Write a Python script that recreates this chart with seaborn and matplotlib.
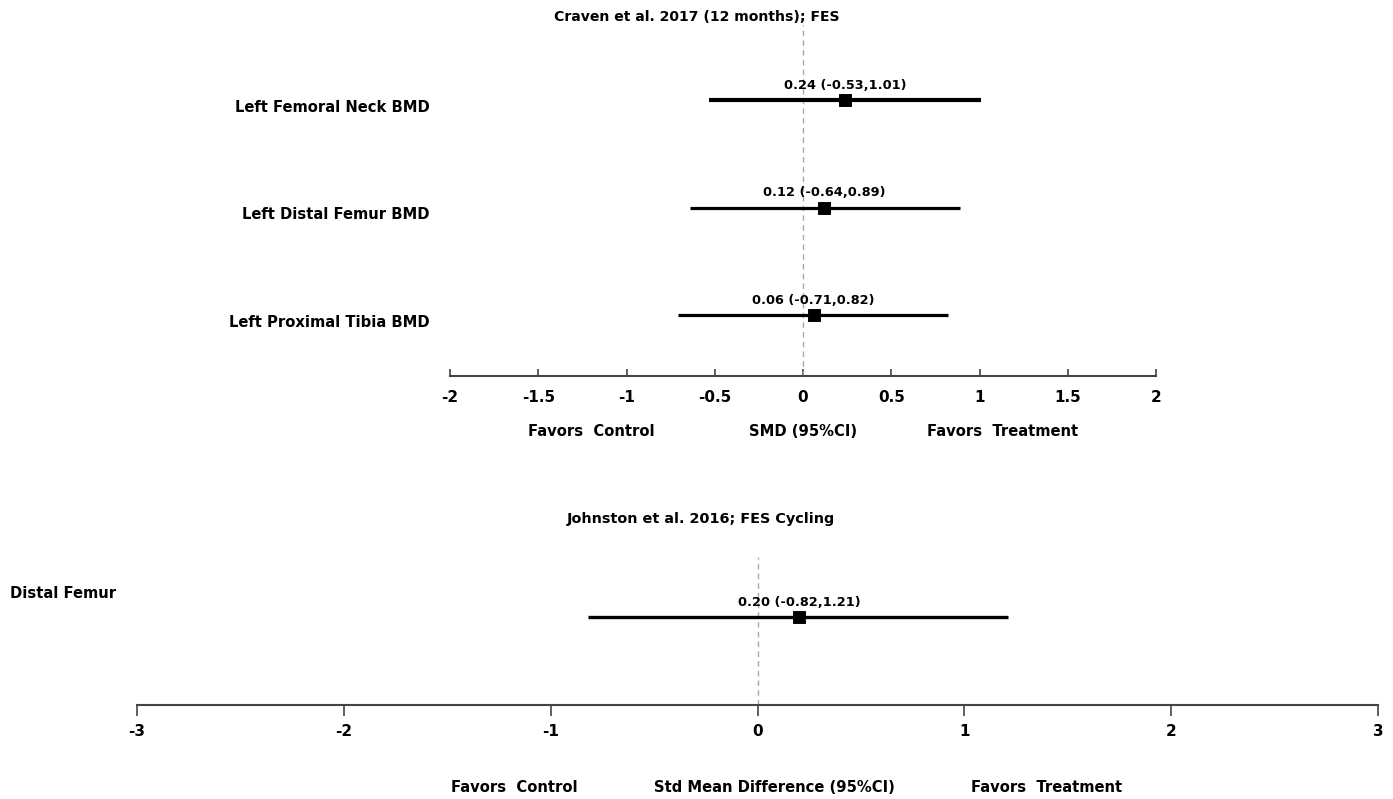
import matplotlib
matplotlib.use("Agg")
import matplotlib.pyplot as plt
import matplotlib.transforms as mtransforms
import seaborn as sns
import pandas as pd

# Craven et al. 2017 (12 months); FES
craven_outcomes = ["Left Femoral Neck BMD", "Left Distal Femur BMD", "Left Proximal Tibia BMD"]
craven_smd = [0.24, 0.12, 0.06]
craven_lo = [-0.53, -0.64, -0.71]
craven_hi = [1.01, 0.89, 0.82]

# Johnston et al. 2016; FES Cycling
johnston_outcomes = ["Distal Femur"]
johnston_smd = [0.20]
johnston_lo = [-0.82]
johnston_hi = [1.21]

top_ticks = [-2, -1.5, -1, -0.5, 0, 0.5, 1, 1.5, 2]
bottom_ticks = [-3, -2, -1, 0, 1, 2, 3]

sns.set_theme(style="white")
plt.rcParams["font.family"] = ["DejaVu Sans"]
plt.rcParams["font.weight"] = "bold"
plt.rcParams["text.color"] = "black"
plt.rcParams["xtick.color"] = "black"

W, H = 1393, 799
fig = plt.figure(figsize=(W / 100, H / 100), dpi=100)


def px_axes(x0, x1, ytop, ybot):
    return fig.add_axes([x0 / W, 1 - ybot / H, (x1 - x0) / W, (ybot - ytop) / H])


def forest(ax, df, lws):
    ax.axvline(0, color="#aaaaaa", lw=1, ls=(0, (4, 3)), zorder=1)
    for i, r in df.iterrows():
        ax.hlines(r["row"], r["lo"], r["hi"], color="black", lw=lws[i], zorder=2)
        ax.annotate(f"{r['smd']:.2f} ({r['lo']:.2f},{r['hi']:.2f})",
                    (r["smd"], r["row"]), xytext=(0, 15), textcoords="offset pixels",
                    ha="center", va="center", fontsize=9.3, fontweight="bold")
    sns.scatterplot(data=df, x="smd", y="row", marker="s", s=70, color="black",
                    edgecolor="black", ax=ax, zorder=3, legend=False)
    ax.set_xlabel("")
    ax.set_ylabel("")
    ax.set_yticks([])
    for s in ["top", "left", "right"]:
        ax.spines[s].set_visible(False)
    ax.spines["bottom"].set_color("#444444")
    ax.spines["bottom"].set_linewidth(1.5)


# ---- top panel ----
top = pd.DataFrame({"outcome": craven_outcomes, "smd": craven_smd,
                    "lo": craven_lo, "hi": craven_hi, "row": range(len(craven_smd))})
ax1 = px_axes(450, 1156, 25, 376)
forest(ax1, top, [3.0, 2.3, 2.3])
ax1.set_xlim(-2, 2)
ax1.set_ylim(2.567, -0.70)
ax1.set_xticks(top_ticks)
ax1.set_xticklabels([f"{t:g}" for t in top_ticks], fontsize=11, fontweight="bold")
ax1.tick_params(axis="x", direction="in", length=5, width=1.2, color="#444444",
                pad=10, bottom=True)
trans1 = mtransforms.blended_transform_factory(ax1.transAxes, ax1.transData)
for i, lab in enumerate(craven_outcomes):
    ax1.annotate(lab, (0, i), xycoords=trans1, xytext=(-20, -7), textcoords="offset pixels",
                 ha="right", va="center", fontsize=10.6, fontweight="bold")
fig.text(697 / W, 1 - 17 / H, "Craven et al. 2017 (12 months); FES",
         ha="center", va="center", fontsize=10.1, fontweight="bold")
for x, t in [(591, "Favors  Control"), (803, "SMD (95%CI)"), (1003, "Favors  Treatment")]:
    fig.text(x / W, 1 - 431 / H, t, ha="center", va="center", fontsize=10.6, fontweight="bold")

# ---- bottom panel ----
bot = pd.DataFrame({"outcome": johnston_outcomes, "smd": johnston_smd,
                    "lo": johnston_lo, "hi": johnston_hi, "row": range(len(johnston_smd))})
ax2 = px_axes(137, 1378, 557, 705)
forest(ax2, bot, [2.4])
ax2.set_xlim(-3, 3)
ax2.set_ylim(0.88, -0.60)
ax2.set_xticks(bottom_ticks)
ax2.set_xticklabels([f"{t:g}" for t in bottom_ticks], fontsize=11, fontweight="bold")
ax2.tick_params(axis="x", direction="out", length=8, width=1.2, color="#444444",
                pad=6, bottom=True)
fig.text(10 / W, 1 - 593 / H, johnston_outcomes[0], ha="left", va="center",
         fontsize=10.6, fontweight="bold")
fig.text(701 / W, 1 - 519 / H, "Johnston et al. 2016; FES Cycling",
         ha="center", va="center", fontsize=10.4, fontweight="bold")
for x, t in [(514, "Favors  Control"), (774, "Std Mean Difference (95%CI)"),
             (1047, "Favors  Treatment")]:
    fig.text(x / W, 1 - 787 / H, t, ha="center", va="center", fontsize=10.6, fontweight="bold")

fig.savefig("out.png", dpi=100)
